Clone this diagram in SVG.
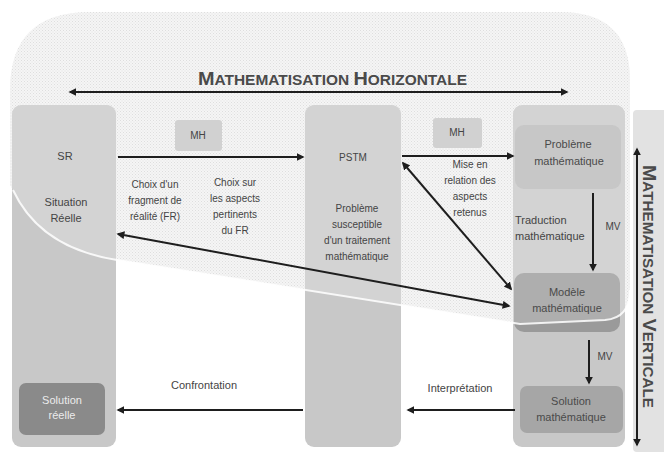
<svg xmlns="http://www.w3.org/2000/svg" width="664" height="454" viewBox="0 0 664 454">
<defs>
<pattern id="dots" width="3" height="3" patternUnits="userSpaceOnUse">
<rect width="3" height="3" fill="#f3f3f3"/>
<rect x="0" y="0" width="1" height="1" fill="#d6d6d6"/>
<rect x="1.5" y="1.5" width="1" height="1" fill="#dedede"/>
</pattern>
<marker id="ah" viewBox="0 0 10 10" refX="8" refY="5" markerWidth="4" markerHeight="4" orient="auto-start-reverse" markerUnits="strokeWidth">
<path d="M0,0 L10,5 L0,10 z" fill="#1e1e1e"/>
</marker>
</defs>
<style>
.col{fill:#c8c8c8}
.t{font-family:"Liberation Sans",Arial,sans-serif;font-size:10px;fill:#444;text-anchor:middle}
.tl{font-family:"Liberation Sans",Arial,sans-serif;font-size:11px;fill:#444;text-anchor:middle}
.tb{font-family:"Liberation Sans",Arial,sans-serif;font-size:11px;fill:#4a4a4a;text-anchor:middle}
.ttl{font-family:"Liberation Sans",Arial,sans-serif;fill:#4a4a4a;font-size:14px;font-weight:bold}
.big{font-size:18px}
.ln{stroke:#1e1e1e;stroke-width:2;fill:none}
</style>
<rect width="664" height="454" fill="#ffffff"/>
<!-- dotted horizontal-mathematisation region -->
<path id="region" d="M10,185 L10,90 Q10,12 90,12 L560,12 Q630,12 630,80 L630,290 Q630,318 605,320 L520,324 L117,260 Q40,248 13,190 Z" fill="url(#dots)"/>
<!-- columns -->
<g id="col-sr"><rect class="col" x="12" y="105" width="104" height="342" rx="9"/></g>
<g id="col-pstm"><rect class="col" x="305" y="105" width="96" height="342" rx="9"/></g>
<g id="col-math"><rect class="col" x="513" y="105" width="112" height="342" rx="9"/></g>
<g id="band-vertical"><rect x="633" y="110" width="35" height="342" rx="4" fill="#e2e2e2"/></g>
<g id="mh1"><rect x="175" y="120" width="47" height="31" rx="3" fill="#c6c6c6"/></g>
<g id="mh2"><rect x="433" y="118" width="49" height="30" rx="3" fill="#c6c6c6"/></g>
<g id="probleme"><rect x="515" y="125" width="106" height="64" rx="9" fill="#b9b9b9"/></g>
<g id="modele"><rect x="514" y="273" width="106" height="59" rx="10" fill="#9a9a9a"/></g>
<g id="sol-math"><rect x="520" y="386" width="103" height="47" rx="7" fill="#a6a6a6"/></g>
<g id="sol-reelle"><rect x="19" y="383" width="86" height="52" rx="7" fill="#8a8a8a"/></g>
<!-- light overlay of the region over the columns -->
<path d="M10,185 L10,90 Q10,12 90,12 L560,12 Q630,12 630,80 L630,290 Q630,318 605,320 L520,324 L117,260 Q40,248 13,190 Z" fill="#ffffff" fill-opacity="0.2"/>
<path d="M630,290 Q630,318 605,320 L520,324 L117,260 Q40,248 13,190" fill="none" stroke="#ffffff" stroke-width="2" stroke-opacity="0.85"/>
<!-- connectors -->
<g id="connectors">
<line class="ln" x1="70" y1="92" x2="567" y2="92" marker-start="url(#ah)" marker-end="url(#ah)"/>
<line class="ln" x1="118" y1="157" x2="303" y2="157" marker-end="url(#ah)"/>
<line class="ln" x1="402" y1="156" x2="513" y2="156" marker-end="url(#ah)"/>
<line class="ln" x1="403" y1="163" x2="511" y2="289" marker-start="url(#ah)" marker-end="url(#ah)"/>
<line class="ln" x1="118" y1="234" x2="509" y2="306" marker-start="url(#ah)" marker-end="url(#ah)"/>
<line class="ln" x1="593" y1="193" x2="593" y2="270" marker-end="url(#ah)"/>
<line class="ln" x1="589" y1="340" x2="589" y2="383" marker-end="url(#ah)"/>
<line class="ln" x1="515" y1="410" x2="408" y2="410" marker-end="url(#ah)"/>
<line class="ln" x1="303" y1="410" x2="118" y2="410" marker-end="url(#ah)"/>
<line class="ln" x1="637" y1="149" x2="637" y2="445" marker-start="url(#ah)" marker-end="url(#ah)"/>
</g>
<!-- titles -->
<text class="ttl" x="198" y="85" textLength="269" lengthAdjust="spacingAndGlyphs"><tspan class="big">M</tspan>ATHEMATISATION <tspan class="big">H</tspan>ORIZONTALE</text>
<text class="ttl" transform="translate(643,165) rotate(90)" x="0" y="0" textLength="243" lengthAdjust="spacingAndGlyphs"><tspan class="big">M</tspan>ATHEMATISATION <tspan class="big">V</tspan>ERTICALE</text>
<!-- labels -->
<g id="lbl-sr"><text class="tl" x="65" y="160">SR</text><text class="tl" x="66" y="206">Situation</text><text class="tl" x="66" y="222">Réelle</text></g>
<g id="lbl-pstm"><text class="t" x="353" y="161">PSTM</text><text class="t" x="357" y="212">Problème</text><text class="t" x="357" y="228">susceptible</text><text class="t" x="357" y="244">d'un traitement</text><text class="t" x="357" y="260">mathématique</text></g>
<text class="t" x="198" y="139">MH</text>
<text class="t" x="457" y="136">MH</text>
<g id="lbl-choix1"><text class="t" x="155" y="188">Choix d'un</text><text class="t" x="155" y="204">fragment de</text><text class="t" x="155" y="220">réalité (FR)</text></g>
<g id="lbl-choix2"><text class="t" x="235" y="186">Choix sur</text><text class="t" x="235" y="202">les aspects</text><text class="t" x="235" y="218">pertinents</text><text class="t" x="235" y="234">du FR</text></g>
<g id="lbl-mise"><text class="t" x="470" y="168">Mise en</text><text class="t" x="470" y="184">relation des</text><text class="t" x="470" y="200">aspects</text><text class="t" x="470" y="216">retenus</text></g>
<g id="lbl-prob"><text class="tb" x="568" y="148">Problème</text><text class="tb" x="569" y="165">mathématique</text></g>
<g id="lbl-trad"><text class="tl" x="515" y="224" style="text-anchor:start">Traduction</text><text class="tl" x="515" y="240" style="text-anchor:start">mathématique</text></g>
<text class="t" x="613" y="230">MV</text>
<g id="lbl-modele"><text class="tb" x="567" y="296">Modèle</text><text class="tb" x="567" y="312">mathématique</text></g>
<text class="t" x="605" y="360">MV</text>
<g id="lbl-solm"><text class="tb" x="571" y="405">Solution</text><text class="tb" x="571" y="421">mathématique</text></g>
<g id="lbl-solr"><text class="tb" x="62" y="404" style="fill:#ececec">Solution</text><text class="tb" x="62" y="419" style="fill:#ececec">réelle</text></g>
<text class="tl" x="204" y="389">Confrontation</text>
<text class="tl" x="460" y="392">Interprétation</text>
</svg>
